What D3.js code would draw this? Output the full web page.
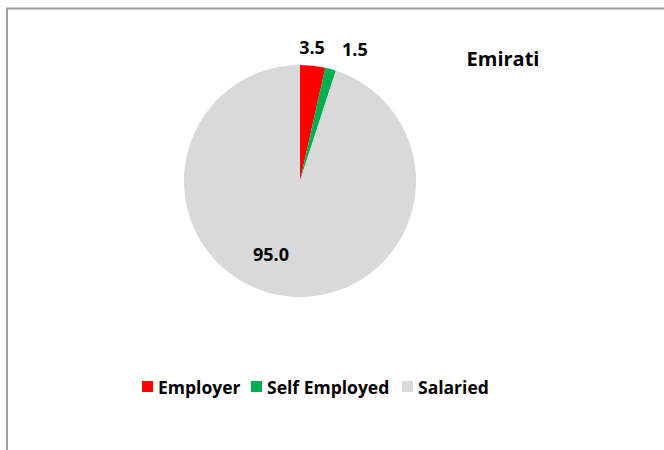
<!DOCTYPE html>
<html>
<head>
<meta charset="utf-8">
<script src="https://cdn.jsdelivr.net/npm/d3@7"></script>
<style>
  body { margin: 0; background: #fff; }
  svg text { font-family: "Open Sans", sans-serif; font-weight: bold; fill: #000; }
</style>
</head>
<body>
<svg id="chart" width="664" height="450"></svg>
<script>
// chart data
const categories = ["Employer", "Self Employed", "Salaried"];
const values = [3.5, 1.5, 95.0];
const colors = ["#ff0000", "#00b050", "#d9d9d9"];
const title = "Emirati";

const svg = d3.select("#chart");
const cx = 300, cy = 181, r = 116;

// frame (only top/left edges fall inside the picture)
svg.append("rect")
  .attr("x", 7).attr("y", 8.5)
  .attr("width", 700).attr("height", 500)
  .attr("fill", "none")
  .attr("stroke", "#a0a0a0")
  .attr("stroke-width", 2);

const pie = d3.pie().sort(null).value(d => d)(values);
const arc = d3.arc().innerRadius(0).outerRadius(r);

const g = svg.append("g").attr("transform", `translate(${cx},${cy})`);

g.selectAll("path")
  .data(pie)
  .enter().append("path")
  .attr("d", arc)
  .attr("fill", (d, i) => colors[i]);

// data labels: small slices outside, big slice inside
const labelRadius = [134, 142, 79];
const labelTurn = [-0.02, 0.13, 0.22]; // angle nudges (radians), as Excel spreads them

g.selectAll("text.lbl")
  .data(pie)
  .enter().append("text")
  .attr("class", "lbl")
  .attr("text-anchor", "middle")
  .attr("font-size", 18)
  .attr("dy", "0.35em")
  .attr("transform", (d, i) => {
    const a = (d.startAngle + d.endAngle) / 2 + labelTurn[i];
    const p = d3.arc().innerRadius(labelRadius[i]).outerRadius(labelRadius[i])
      .centroid({startAngle: a, endAngle: a});
    return `translate(${p[0]},${p[1]})`;
  })
  .text(d => d.data.toFixed(1));

svg.append("text")
  .attr("x", 503).attr("y", 66)
  .attr("text-anchor", "middle")
  .attr("font-size", 20)
  .text(title);

// legend
const legend = svg.append("g").attr("transform", "translate(142,381)");
const legendX = [0, 109, 260];
categories.forEach((c, i) => {
  const item = legend.append("g").attr("transform", `translate(${legendX[i]},0)`);
  item.append("rect").attr("width", 11).attr("height", 11).attr("fill", colors[i]);
  item.append("text").attr("x", 16).attr("y", 13).attr("font-size", 17.5).text(c);
});
</script>
</body>
</html>
